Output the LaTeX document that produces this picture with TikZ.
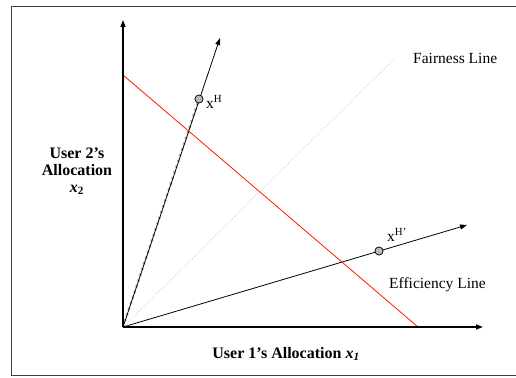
\documentclass[tikz,border=0pt]{standalone}
\usepackage{fontspec}
\setmainfont{Liberation Serif}
\usetikzlibrary{arrows.meta}
\begin{document}
\begin{tikzpicture}[x=1pt,y=-1pt,
  axis/.style={line width=1.3pt,-{Triangle[length=7pt,width=5pt]}},
  ray/.style={line width=0.8pt,-{Triangle[length=7pt,width=5pt]}},
  pt/.style={circle,draw=black,fill=gray!55,inner sep=0pt,minimum size=8pt,line width=0.6pt},
  lbl/.style={font=\fontsize{15.5}{18}\selectfont,inner sep=0pt},
  blbl/.style={font=\bfseries\fontsize{16}{17}\selectfont,inner sep=0pt,align=center}]
\useasboundingbox (0,0) rectangle (516,377);
\draw[line width=1pt,black!75] (516,7) -- (11,7) -- (11,375) -- (516,375);
% named points
\coordinate (O) at (123,327);
\coordinate (ytip) at (123,20);
\coordinate (xtip) at (483,327);
\coordinate (rA) at (123,75);
\coordinate (rB) at (418,327);
\coordinate (Htip) at (220,38);
\coordinate (Hptip) at (467,225);
\coordinate (Fend) at (394,59);
\node[pt] (H) at (199,99) {};
\node[pt] (Hp) at (379,251) {};
% fairness line
\draw[gray!55,dotted,line width=0.7pt] (O) -- (Fend);
% gray dotted trace
\draw[gray!65,line width=2.4pt,dash pattern=on 2.2pt off 3.8pt,xshift=1.3pt] (O) -- (H);
% rays
\draw[ray] (O) -- (Htip);
\draw[ray] (O) -- (Hptip);
% efficiency line
\draw[red!80!orange,line width=0.8pt] (rA) -- (rB);
% axes
\draw[axis] (O) -- (ytip);
\draw[axis] (O) -- (xtip);
\node[pt] at (H) {};
\node[pt] at (Hp) {};
% labels
\node[lbl,anchor=west] (Hl) at (206,102) {x\textsuperscript{H}};
\node[lbl,anchor=west] (Hpl) at (387,235) {x\textsuperscript{H’}};
\node[lbl,anchor=west] (fl) at (413,58) {Fairness Line};
\node[lbl,anchor=west] (el) at (389,285) {Efficiency Line};
\node[blbl] (xl) at (286,354) {User 1’s Allocation \textit{x}\textsubscript{\textit{1}}};
\node[blbl] (yl) at (77,171) {User 2’s\\Allocation\\\textit{x}\textsubscript{2}};
\end{tikzpicture}
\end{document}
